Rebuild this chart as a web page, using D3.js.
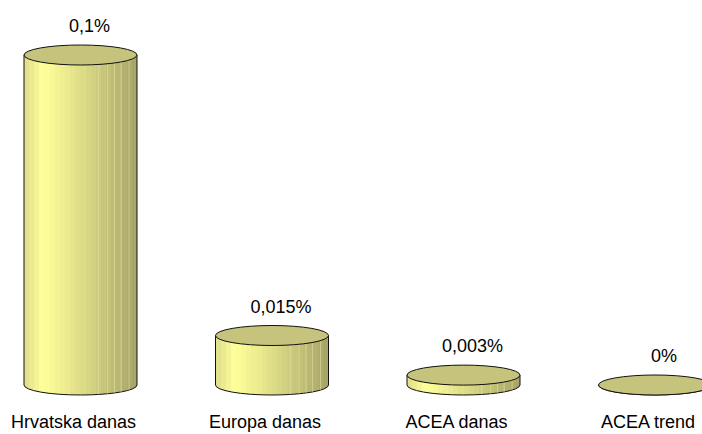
<!DOCTYPE html>
<html>
<head>
<meta charset="utf-8">
<script src="https://cdn.jsdelivr.net/npm/d3@7"></script>
<style>
  html, body { margin: 0; padding: 0; background: #fff; }
  svg { display: block; }
  text { font-family: "Liberation Sans", Arial, Helvetica, sans-serif; font-size: 18px; fill: #000; }
</style>
</head>
<body>
<svg id="chart" width="702" height="434"></svg>
<script>
// Chart data
const categories = ["Hrvatska danas", "Europa danas", "ACEA danas", "ACEA trend"];
const values = [0.1, 0.015, 0.003, 0];
const valueLabels = ["0,1%", "0,015%", "0,003%", "0%"];

const W = 702, H = 434;
const svg = d3.select("#chart");

// Cylinder centres across the (partly clipped) plot area
const x = d3.scalePoint().domain(categories).range([-15.25, 750.75]).padding(0.5);
// Value -> y of the cylinder's top ellipse centre
const y = d3.scaleLinear().domain([0, 0.1]).range([385, 55]);

const rx = 56.5, ry = 10;

// Banded side shading: vertical stripes, bright near the left, darker to the right
const defs = svg.append("defs");
const grad = defs.append("linearGradient").attr("id", "side").attr("x1", 0).attr("x2", 1).attr("y1", 0).attr("y2", 0);
const bright = d3.rgb("#ffff9a"), dark = d3.rgb("#a6a368"), edge = d3.rgb("#dedc8a");
const nBands = 22, peak = 0.17;
function bandColor(t) {
  if (t < peak) return d3.interpolateRgb(edge, bright)(t / peak);
  return d3.interpolateRgb(bright, dark)(Math.pow((t - peak) / (1 - peak), 1.1));
}
for (let i = 0; i < nBands; i++) {
  const a = i / nBands, b = (i + 1) / nBands;
  const c = bandColor((a + b) / 2);
  grad.append("stop").attr("offset", a).attr("stop-color", c);
  grad.append("stop").attr("offset", b).attr("stop-color", c);
}

const g = svg.append("g");
const cyl = g.selectAll("g.cyl").data(categories).join("g").attr("class", "cyl");

cyl.each(function(cat, i) {
  const sel = d3.select(this);
  const cx = x(cat);
  const yb = y(0), yt = y(values[i]);
  // side + bottom half of the base ellipse
  sel.append("path")
    .attr("d", `M${cx - rx},${yt} L${cx - rx},${yb} A${rx},${ry} 0 0 0 ${cx + rx},${yb} L${cx + rx},${yt} Z`)
    .attr("fill", "url(#side)")
    .attr("stroke", "#111").attr("stroke-width", 1);
  // faint light seams on the shaded half
  [0.66, 0.74, 0.8, 0.86, 0.93].forEach(f => {
    const lx = cx - rx + f * 2 * rx;
    const dy = ry * Math.sqrt(Math.max(0, 1 - Math.pow((lx - cx) / rx, 2)));
    if (yb - yt > 1) {
      sel.append("line")
        .attr("x1", lx).attr("x2", lx)
        .attr("y1", yt + dy).attr("y2", yb + dy)
        .attr("stroke", "#e6e4a8").attr("stroke-opacity", 0.55).attr("stroke-width", 1);
    }
  });
  // top ellipse
  sel.append("ellipse")
    .attr("cx", cx).attr("cy", yt).attr("rx", rx).attr("ry", ry)
    .attr("fill", "#c6c47c")
    .attr("stroke", "#111").attr("stroke-width", 1);
});

// value labels
g.selectAll("text.val").data(categories).join("text").attr("class", "val")
  .attr("x", d => x(d) + 9)
  .attr("y", (d, i) => y(values[i]) - 23)
  .attr("text-anchor", "middle")
  .text((d, i) => valueLabels[i]);

// category labels
g.selectAll("text.cat").data(categories).join("text").attr("class", "cat")
  .attr("x", d => x(d) - 7)
  .attr("y", 428)
  .attr("text-anchor", "middle")
  .text(d => d);
</script>
</body>
</html>
